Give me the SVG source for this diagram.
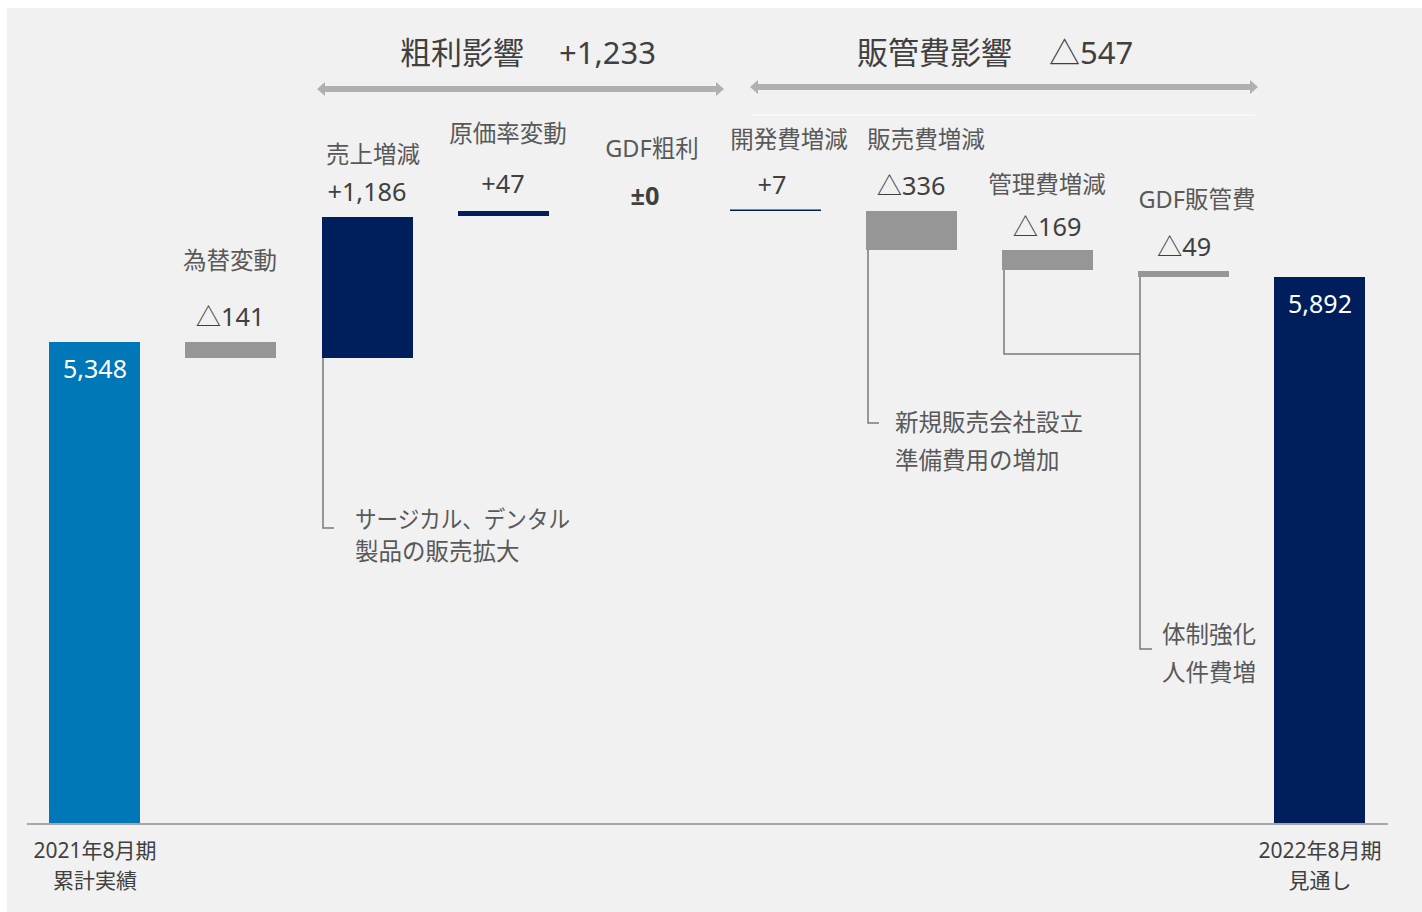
<svg xmlns="http://www.w3.org/2000/svg" width="1422" height="912" viewBox="0 0 1422 912">
<style>
text{font-family:"Noto Sans","Noto Sans CJK JP",sans-serif}
.lbl{font-size:23.5px;fill:#595959;text-anchor:middle}
.num{font-size:25.3px;fill:#404040;text-anchor:middle}
.ttl{font-size:31px;fill:#404040}
.wnum{font-size:25px;fill:#ffffff;text-anchor:middle}
.axl{font-size:21px;fill:#404040;text-anchor:middle}
.note{font-size:23.5px;fill:#595959}
.blue{fill:#0077b6}
.navy{fill:#001e5c}
.gray{fill:#969696}
.call{fill:none;stroke:#7a7a7a;stroke-width:1.5}
.arr{fill:#b0b0b0}
</style>
<rect x="7" y="8" width="1415" height="904" fill="#f1f1f1"/>

<g id="titles">
<text class="ttl" x="400" y="64">粗利影響</text>
<text class="ttl" x="559" y="64">+1,233</text>
<text class="ttl" x="857" y="64">販管費影響</text>
<text class="ttl" x="1049" y="64">△547</text>
</g>

<g id="connectors">
<path class="arr" d="M317,89 L325,82 L325,86 L716,86 L716,82 L724,89 L716,96 L716,92 L325,92 L325,96 Z"/>
<path class="arr" d="M750,87 L758,80 L758,84 L1250,84 L1250,80 L1258,87 L1250,94 L1250,90 L758,90 L758,94 Z"/>
<line x1="752" y1="115" x2="1255" y2="115" stroke="#f8f8f8" stroke-width="2"/>
<polyline class="call" points="323,358 323,528 334,528"/>
<polyline class="call" points="868,250 868,423 879,423"/>
<polyline class="call" points="1004,270 1004,354 1140,354"/>
<polyline class="call" points="1140,277 1140,649 1152,649"/>
<line x1="27" y1="824" x2="1388" y2="824" stroke="#a6a6a6" stroke-width="2"/>
</g>

<g id="start">
<rect class="blue" x="49" y="342" width="91" height="481"/>
<text class="wnum" x="95" y="378">5,348</text>
<text class="axl" x="95" y="858">2021年8月期</text>
<text class="axl" x="95" y="888">累計実績</text>
</g>

<g id="fx">
<text class="lbl" x="230" y="269">為替変動</text>
<text class="num" x="230" y="326">△141</text>
<rect class="gray" x="185" y="342" width="91" height="16"/>
</g>

<g id="sales">
<text class="lbl" x="373" y="163">売上増減</text>
<text class="num" x="367" y="201">+1,186</text>
<rect class="navy" x="322" y="217" width="91" height="141"/>
<text class="note" x="355" y="528" textLength="215" lengthAdjust="spacingAndGlyphs">サージカル、デンタル</text>
<text class="note" x="355" y="560">製品の販売拡大</text>
</g>

<g id="cost-rate">
<text class="lbl" x="508" y="142">原価率変動</text>
<text class="num" x="503" y="193">+47</text>
<rect class="navy" x="458" y="211" width="91" height="5"/>
</g>

<g id="gdf-gross">
<text class="lbl" x="652" y="157">GDF粗利</text>
<text class="num" x="645" y="205" font-weight="bold">±0</text>
</g>

<g id="dev">
<text class="lbl" x="789" y="148">開発費増減</text>
<text class="num" x="772" y="194">+7</text>
<rect class="navy" x="730" y="209.5" width="91" height="1.5"/>
</g>

<g id="selling">
<text class="lbl" x="926" y="148">販売費増減</text>
<text class="num" x="911" y="195">△336</text>
<rect class="gray" x="866" y="211" width="91" height="39"/>
<text class="note" x="895" y="431">新規販売会社設立</text>
<text class="note" x="895" y="469">準備費用の増加</text>
</g>

<g id="admin">
<text class="lbl" x="1047" y="193">管理費増減</text>
<text class="num" x="1047" y="236">△169</text>
<rect class="gray" x="1002" y="250" width="91" height="20"/>
</g>

<g id="gdf-sga">
<text class="lbl" x="1197" y="208">GDF販管費</text>
<text class="num" x="1184" y="256">△49</text>
<rect class="gray" x="1138" y="271" width="91" height="6"/>
<text class="note" x="1162" y="643">体制強化</text>
<text class="note" x="1162" y="681">人件費増</text>
</g>

<g id="end">
<rect class="navy" x="1274" y="277" width="91" height="546"/>
<text class="wnum" x="1320" y="313">5,892</text>
<text class="axl" x="1320" y="858">2022年8月期</text>
<text class="axl" x="1320" y="888">見通し</text>
</g>
</svg>
